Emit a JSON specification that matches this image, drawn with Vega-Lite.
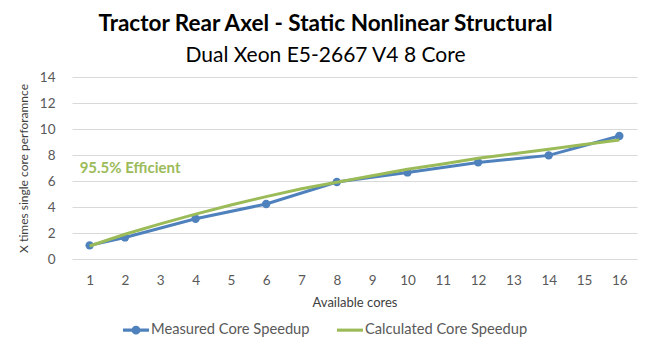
{
  "$schema": "https://vega.github.io/schema/vega-lite/v6.json",
  "autosize": "none",
  "width": 565,
  "height": 182,
  "padding": {"left": 72, "top": 77, "right": 14, "bottom": 92},
  "background": "white",
  "config": {
    "font": "Lato",
    "view": {"stroke": null}
  },
  "title": {
    "text": "Tractor Rear Axel - Static Nonlinear Structural",
    "subtitle": "Dual Xeon E5-2667 V4 8 Core",
    "anchor": "middle",
    "frame": "group",
    "dx": -29,
    "offset": 4,
    "font": "Lato",
    "fontSize": 22.5,
    "fontWeight": "bold",
    "color": "#000000",
    "subtitleFont": "Lato",
    "subtitleFontSize": 21,
    "subtitleColor": "#000000",
    "subtitlePadding": 10
  },
  "datasets": {
    "speed": [
      {"cores": 1, "series": "Measured Core Speedup", "speedup": 1.05},
      {"cores": 2, "series": "Measured Core Speedup", "speedup": 1.66},
      {"cores": 4, "series": "Measured Core Speedup", "speedup": 3.1},
      {"cores": 6, "series": "Measured Core Speedup", "speedup": 4.23},
      {"cores": 8, "series": "Measured Core Speedup", "speedup": 5.92},
      {"cores": 10, "series": "Measured Core Speedup", "speedup": 6.66},
      {"cores": 12, "series": "Measured Core Speedup", "speedup": 7.43},
      {"cores": 14, "series": "Measured Core Speedup", "speedup": 7.97},
      {"cores": 16, "series": "Measured Core Speedup", "speedup": 9.46},
      {"cores": 1, "series": "Calculated Core Speedup", "speedup": 1.0},
      {"cores": 2, "series": "Calculated Core Speedup", "speedup": 1.9},
      {"cores": 3, "series": "Calculated Core Speedup", "speedup": 2.7},
      {"cores": 4, "series": "Calculated Core Speedup", "speedup": 3.45},
      {"cores": 5, "series": "Calculated Core Speedup", "speedup": 4.15},
      {"cores": 6, "series": "Calculated Core Speedup", "speedup": 4.8},
      {"cores": 7, "series": "Calculated Core Speedup", "speedup": 5.4},
      {"cores": 8, "series": "Calculated Core Speedup", "speedup": 5.9},
      {"cores": 9, "series": "Calculated Core Speedup", "speedup": 6.4},
      {"cores": 10, "series": "Calculated Core Speedup", "speedup": 6.9},
      {"cores": 11, "series": "Calculated Core Speedup", "speedup": 7.3},
      {"cores": 12, "series": "Calculated Core Speedup", "speedup": 7.75},
      {"cores": 13, "series": "Calculated Core Speedup", "speedup": 8.1},
      {"cores": 14, "series": "Calculated Core Speedup", "speedup": 8.45},
      {"cores": 15, "series": "Calculated Core Speedup", "speedup": 8.8},
      {"cores": 16, "series": "Calculated Core Speedup", "speedup": 9.15}
    ],
    "note": [
      {"cores": 1, "speedup": 7, "label": "95.5% Efficient"}
    ]
  },
  "encoding": {
    "x": {
      "field": "cores",
      "type": "ordinal",
      "scale": {"type": "point", "padding": 0.5},
      "axis": {
        "title": "Available cores",
        "titleFont": "Lato",
        "titleFontSize": 13,
        "titleFontWeight": "normal",
        "titleColor": "#404040",
        "titlePadding": 10,
        "labelAngle": 0,
        "labelFont": "Lato",
        "labelFontSize": 13.5,
        "labelColor": "#595959",
        "labelPadding": 14,
        "ticks": false,
        "domain": false,
        "grid": false
      }
    },
    "y": {
      "field": "speedup",
      "type": "quantitative",
      "scale": {"domain": [0, 14]},
      "axis": {
        "title": "X times single core perforamnce",
        "titleFont": "Lato",
        "titleFontSize": 12,
        "titleFontWeight": "normal",
        "titleColor": "#404040",
        "titlePadding": 9,
        "values": [0, 2, 4, 6, 8, 10, 12, 14],
        "labelFont": "Lato",
        "labelFontSize": 13.5,
        "labelColor": "#595959",
        "labelPadding": 17,
        "ticks": false,
        "domain": false,
        "grid": true,
        "gridColor": "#d9d9d9",
        "gridWidth": 1
      }
    }
  },
  "layer": [
    {
      "data": {"name": "speed"},
      "transform": [{"filter": "datum.series === 'Measured Core Speedup'"}],
      "mark": {"type": "line", "strokeWidth": 3},
      "encoding": {
        "color": {
          "field": "series",
          "type": "nominal",
          "scale": {
            "domain": ["Measured Core Speedup", "Calculated Core Speedup"],
            "range": ["#4f81bd", "#9bbb59"]
          },
          "legend": {
            "title": null,
            "orient": "none",
            "legendX": 51,
            "legendY": 240,
            "direction": "horizontal",
            "symbolSize": 676,
            "labelFont": "Lato",
            "labelFontSize": 14.7,
            "labelColor": "#595959",
            "labelOffset": 2,
            "labelLimit": 400,
            "columnPadding": 27,
            "encode": {
              "symbols": {
                "update": {
                  "shape": {"signal": "datum.value === 'Measured Core Speedup' ? 'M-1,-0.12H-0.3V0.12H-1Z M0.3,-0.12H1V0.12H0.3Z M-0.34,0A0.34,0.34 0 1,1 0.34,0A0.34,0.34 0 1,1 -0.34,0Z' : 'M-1,-0.12H1V0.12H-1Z'"},
                  "fill": {"signal": "scale('color', datum.value)"},
                  "fillOpacity": {"value": 1},
                  "strokeWidth": {"value": 0}
                }
              }
            }
          }
        }
      }
    },
    {
      "data": {"name": "speed"},
      "transform": [{"filter": "datum.series === 'Measured Core Speedup'"}],
      "mark": {"type": "point", "filled": true, "size": 70, "opacity": 1},
      "encoding": {
        "color": {"field": "series", "type": "nominal"}
      }
    },
    {
      "data": {"name": "speed"},
      "transform": [{"filter": "datum.series === 'Calculated Core Speedup'"}],
      "mark": {"type": "line", "strokeWidth": 3},
      "encoding": {
        "color": {"field": "series", "type": "nominal"}
      }
    },
    {
      "data": {"name": "note"},
      "mark": {"type": "text", "align": "left", "baseline": "middle", "dx": -10, "fontWeight": "bold", "fontSize": 15, "font": "Lato", "color": "#9bbb59"},
      "encoding": {
        "text": {"field": "label"}
      }
    }
  ]
}
